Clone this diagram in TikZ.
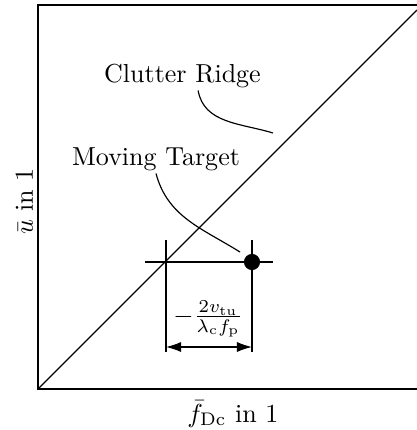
\documentclass[tikz,border=0pt]{standalone}
\usepackage{tikz}
\usetikzlibrary{arrows.meta,positioning,calc}

\begin{document}
\begin{tikzpicture}[x=0.0135cm, y=-0.0135cm,
  frame/.style={draw, line width=0.9pt},
  thinline/.style={draw, line width=0.45pt},
  label/.style={inner sep=1pt, anchor=base},
  dot/.style={circle, fill=black, inner sep=0pt, minimum size=6.2pt},
  dimline/.style={thinline, {Latex[length=5.8pt,width=3.9pt]}-{Latex[length=5.8pt,width=3.9pt]}},
  ]
  \useasboundingbox (0,0) rectangle (417,430);
  \coordinate (ll) at (38,389);
  \coordinate (ul) at (38,5);
  \coordinate (topright) at (417,5);
  \coordinate (botright) at (417,389);
  \coordinate (diagend) at (417,10);
  \draw[frame] (topright) -- (ul) -- (ll) -- (botright);
  \draw[thinline] (ll) -- (diagend);

  \coordinate (cross) at (166,262);
  \node[dot] (target) at (252,262) {};
  \coordinate (hleft) at (145,262);
  \coordinate (hright) at (273,262);
  \coordinate (vltop) at (166,240);
  \coordinate (vlbot) at (166,352);
  \coordinate (vrtop) at (252,240);
  \coordinate (vrbot) at (252,352);
  \coordinate (aleft) at (166,347);
  \coordinate (aright) at (252,347);
  \draw[thinline] (hleft) -- (hright);
  \draw[thinline] (vltop) -- (vlbot);
  \draw[thinline] (vrtop) -- (vrbot);
  \draw[dimline] (aleft) -- (aright);
  \node (dimlabel) at (208,319) {$-\frac{2v_{\mathrm{tu}}}{\lambda_{\mathrm{c}}f_{\mathrm{p}}}$};

  \node[label] (ridge) at (182.5,82) {Clutter Ridge};
  \node[label] (moving) at (156,165) {Moving Target};
  \coordinate (ridgeend) at (273,133);
  \coordinate (movingend) at (240,252);
  \draw[thinline] ([xshift=6pt]ridge.south) to[out=-80, in=163] (ridgeend);
  \draw[thinline] (moving.south) to[out=-75, in=148] (movingend);

  \node[label] (xlabel) at (233,422) {$\bar{f}_{\mathrm{Dc}}$ in 1};
  \node[label, rotate=90] (ylabel) at (33,201.5) {$\bar{u}$ in 1};
\end{tikzpicture}
\end{document}
